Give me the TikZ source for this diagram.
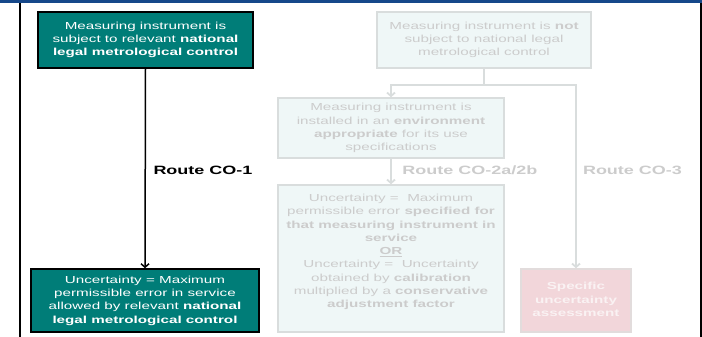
\documentclass[tikz,border=0pt]{standalone}
\usepackage{fontspec}
\usepackage{graphicx}
\setmainfont{Liberation Sans}
\usetikzlibrary{arrows.meta}
\definecolor{teal1}{RGB}{0,125,120}
\definecolor{bandblue}{RGB}{22,72,138}
\definecolor{fadefill}{RGB}{239,247,247}
\definecolor{fadeline}{RGB}{217,221,221}
\definecolor{fadetext}{RGB}{204,204,204}
\definecolor{pinkfill}{RGB}{242,214,218}
\definecolor{pinkline}{RGB}{226,220,220}
\definecolor{pinktext}{RGB}{250,242,243}
\newcommand{\sqz}[1]{\scalebox{1}[0.67]{\begin{tabular}{@{}c@{}}#1\end{tabular}}}
\begin{document}
\begin{tikzpicture}[x=1pt,y=-1pt,
  txt/.style={font=\fontsize{15.2}{19.8}\selectfont, inner sep=0pt, align=center},
  darkbox/.style={txt, draw=black, line width=1.5pt, fill=teal1, text=white},
  fadebox/.style={txt, draw=fadeline, line width=1.5pt, fill=fadefill, text=fadetext},
  pinkbox/.style={txt, draw=pinkline, line width=1.5pt, fill=pinkfill, text=pinktext},
  routelbl/.style={font=\fontsize{18}{20}\selectfont\bfseries, inner sep=0pt},
  darkconn/.style={line width=1.5pt, draw=black},
  fadeconn/.style={line width=1.8pt, draw=fadeline},
  tip/.style={-{Straight Barb[length=3.5pt,width=8pt]}}
]
\useasboundingbox (0,0) rectangle (702,337);
% frame
\fill[bandblue] (0,0) rectangle (702,3.5);
\draw[line width=1.5pt] (20,3.5) -- (20,337);
\draw[line width=2pt] (700.5,3.5) -- (700.5,337);

% left route
\node[darkbox, minimum width=215pt, minimum height=56pt] (A) at (145.5,40)
  {\sqz{Measuring instrument is\\subject to relevant \textbf{national}\\\textbf{legal metrological control}}};
\node[darkbox, minimum width=228pt, minimum height=63pt] (B) at (145,300.5)
  {\sqz{Uncertainty = Maximum\\permissible error in service\\allowed by relevant \textbf{national}\\\textbf{legal metrological control}}};
\draw[darkconn, tip] (A.south) -- (B.north);
\node[routelbl] (r1) at (203,170) {\scalebox{1}[0.67]{Route CO-1}};

% right routes
\node[fadebox, minimum width=214pt, minimum height=56pt] (C) at (484,40)
  {\sqz{Measuring instrument is \textbf{not}\\subject to national legal\\metrological control}};
\node[fadebox, minimum width=226pt, minimum height=60pt] (D) at (391,128)
  {\sqz{Measuring instrument is\\installed in an \textbf{environment}\\\textbf{appropriate} for its use\\specifications}};
\node[fadebox, minimum width=226pt, minimum height=147pt] (E) at (391,258.5) {};
\node[txt, text=fadetext] (Et) at (391,252)
  {\sqz{Uncertainty =\ \ Maximum\\permissible error \textbf{specified for}\\\textbf{that measuring instrument in}\\\textbf{service}\\\underline{\textbf{OR}}\\Uncertainty =\ \ Uncertainty\\obtained by \textbf{calibration}\\multiplied by a \textbf{conservative}\\\textbf{adjustment factor}}};
\node[pinkbox, minimum width=110pt, minimum height=63pt] (F) at (576,300.5)
  {\sqz{\textbf{Specific}\\\textbf{uncertainty}\\\textbf{assessment}}};

\coordinate (j) at (484,85);
\draw[fadeconn] (C.south) -- (j);
\draw[fadeconn, tip] (j) -| (D.north);
\draw[fadeconn, tip] (j) -| (F.north);
\draw[fadeconn, tip] (D.south) -- (E.north);
\node[routelbl, text=fadetext] (r2) at (470,170) {\scalebox{1}[0.67]{Route CO-2a/2b}};
\node[routelbl, text=fadetext] (r3) at (632.5,170) {\scalebox{1}[0.67]{Route CO-3}};
\end{tikzpicture}
\end{document}
